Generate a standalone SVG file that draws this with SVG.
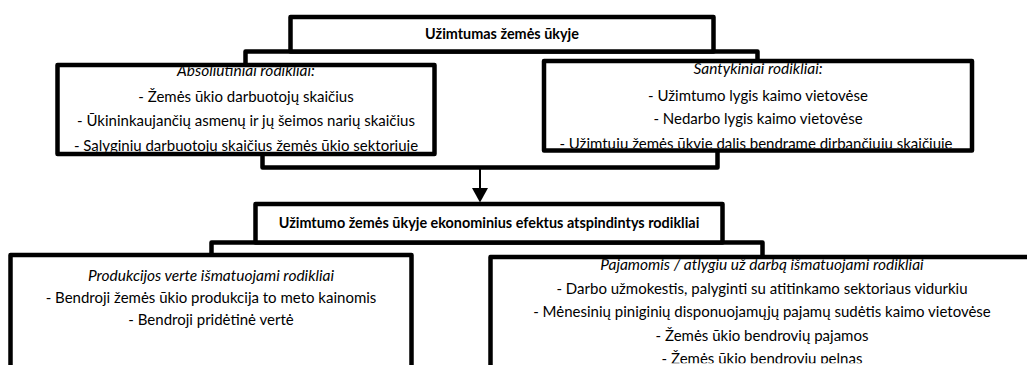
<svg xmlns="http://www.w3.org/2000/svg" width="1027" height="365" viewBox="0 0 1027 365">
<style>
.bx{fill:#fff;stroke:#000;stroke-width:4.5;stroke-linejoin:round}
.fr{fill:none;stroke:#000;stroke-width:4.5;stroke-linejoin:round}
text{font-family:Lato,"Liberation Sans",sans-serif;font-size:15px;fill:#000;text-anchor:middle}
.b{font-weight:bold;font-size:14.4px}
.i{font-style:italic;font-size:15.5px}
</style>
<defs>
<clipPath id="cL1"><rect x="59.75" y="67.25" width="372.5" height="84.5"/></clipPath>
<clipPath id="cR1"><rect x="546.25" y="63.25" width="423.5" height="85"/></clipPath>
<clipPath id="cL2"><rect x="12.75" y="257.25" width="396.5" height="110"/></clipPath>
<clipPath id="cR2"><rect x="492.75" y="259.25" width="540" height="104"/></clipPath>
</defs>
<g id="frames">
<path class="fr" d="M245.5,70 V51.5 H757.5 V66"/>
<path class="fr" d="M262.5,150 V167.5 H717.5 V146"/>
<path class="fr" d="M211.5,262 V242.5 H762.5 V262"/>
</g>
<g id="header1">
<rect class="bx" x="290.5" y="17" width="423" height="34.5"/>
<text class="b" x="502" y="38.5">Užimtumas žemės ūkyje</text>
</g>
<g id="left1">
<rect class="bx" x="57.5" y="65" width="377" height="89"/>
<g clip-path="url(#cL1)">
<text class="i" x="246" y="76">Absoliutiniai rodikliai:</text>
<text x="246" y="102">- Žemės ūkio darbuotojų skaičius</text>
<text x="246" y="125.5">- Ūkininkaujančių asmenų ir jų šeimos narių skaičius</text>
<text x="246" y="151">- Sąlyginių darbuotojų skaičius žemės ūkio sektoriuje</text>
</g>
</g>
<g id="right1">
<rect class="bx" x="544" y="61" width="428" height="89.5"/>
<g clip-path="url(#cR1)">
<text class="i" x="758" y="74">Santykiniai rodikliai:</text>
<text x="758" y="101">- Užimtumo lygis kaimo vietovėse</text>
<text x="758" y="124">- Nedarbo lygis kaimo vietovėse</text>
<text x="756" y="148.5">- Užimtųjų žemės ūkyje dalis bendrame dirbančiųjų skaičiuje</text>
</g>
</g>
<g id="connectors">
<line x1="480" y1="167.5" x2="480" y2="190" stroke="#000" stroke-width="2"/>
<polygon points="472,188 488,188 480,202.5" fill="#000"/>
</g>
<g id="header2">
<rect class="bx" x="255.5" y="204" width="467" height="38.5"/>
<text class="b" x="489" y="228">Užimtumo žemės ūkyje ekonominius efektus atspindintys rodikliai</text>
</g>
<g id="left2">
<rect class="bx" x="10.5" y="255" width="401" height="130"/>
<g clip-path="url(#cL2)">
<text class="i" x="211" y="281">Produkcijos verte išmatuojami rodikliai</text>
<text x="211" y="303">- Bendroji žemės ūkio produkcija to meto kainomis</text>
<text x="211" y="325">- Bendroji pridėtinė vertė</text>
</g>
</g>
<g id="right2">
<rect class="bx" x="490.5" y="257" width="560" height="130"/>
<g clip-path="url(#cR2)">
<text class="i" x="762" y="269.5">Pajamomis / atlygiu už darbą išmatuojami rodikliai</text>
<text x="762" y="294">- Darbo užmokestis, palyginti su atitinkamo sektoriaus vidurkiu</text>
<text x="762" y="317">- Mėnesinių piniginių disponuojamųjų pajamų sudėtis kaimo vietovėse</text>
<text x="762" y="340.5">- Žemės ūkio bendrovių pajamos</text>
<text x="762" y="363.5">- Žemės ūkio bendrovių pelnas</text>
</g>
</g>
</svg>
